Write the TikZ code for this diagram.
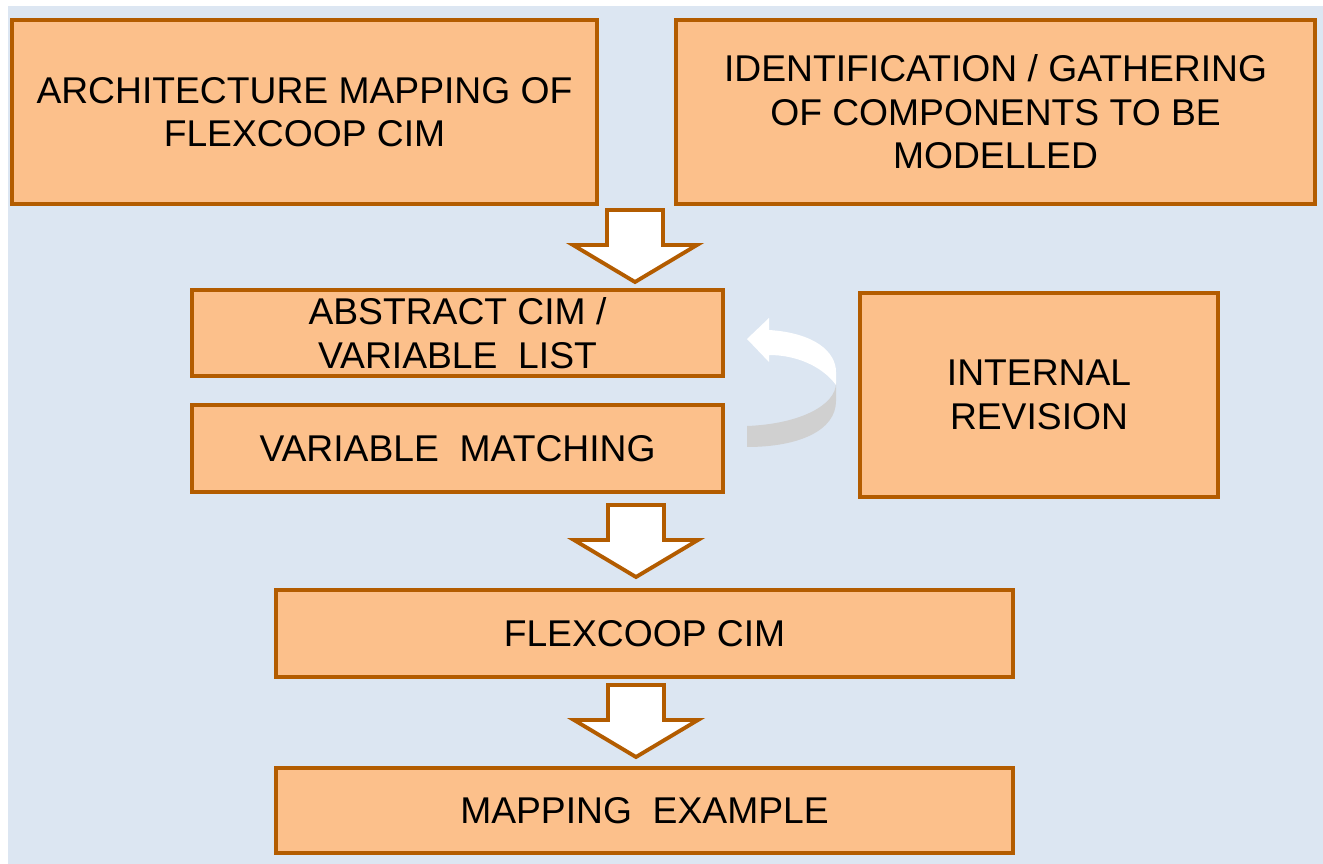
\documentclass[tikz,border=0pt]{standalone}
\usepackage{fontspec}
\setmainfont{Liberation Sans}
\usetikzlibrary{positioning}
\definecolor{pagebg}{HTML}{DCE6F2}
\definecolor{boxfill}{HTML}{FCC08B}
\definecolor{boxline}{HTML}{B35C00}
\definecolor{ribbon}{HTML}{D0D0D0}
\tikzset{
  stage/.style={rectangle, draw=boxline, line width=2.2pt, fill=boxfill,
                align=center, font=\fontsize{21.2}{24.8}\selectfont},
  blockarr/.style={draw=boxline, line width=2.2pt, fill=white, line join=miter},
  pics/downarrow/.style={code={
    \draw[blockarr] (-28,0) -- (28,0) -- (28,35) -- (62,35) -- (0,72)
                    -- (-62,35) -- (-28,35) -- cycle;
  }}
}

\begin{document}
\begin{tikzpicture}[x=0.02cm, y=-0.02cm]
  \useasboundingbox (0,0) rectangle (1323,864);
  \fill[pagebg] (8,6) rectangle (1323,864);

  % top row
  \node[stage, minimum width=11.7cm, minimum height=3.68cm] (arch) at (304.5,112)
       {ARCHITECTURE MAPPING OF\\FLEXCOOP CIM};
  \node[stage, minimum width=12.78cm, minimum height=3.68cm] (ident) at (995.5,112)
       {IDENTIFICATION / GATHERING\\OF COMPONENTS TO BE\\MODELLED};

  % middle
  \node[stage, minimum width=10.62cm, minimum height=1.72cm] (abs) at (457.5,333)
       {ABSTRACT CIM /\\VARIABLE \ LIST};
  \node[stage, minimum width=10.62cm, minimum height=1.74cm] (match) at (457.5,448.5)
       {VARIABLE \ MATCHING};
  \node[stage, minimum width=7.16cm, minimum height=4.08cm] (rev) at (1039,395)
       {INTERNAL\\REVISION};

  % bottom
  \node[stage, minimum width=14.74cm, minimum height=1.74cm] (flex) at (644.5,633.5)
       {FLEXCOOP CIM};
  \node[stage, minimum width=14.74cm, minimum height=1.7cm] (example) at (644.5,810.5)
       {MAPPING \ EXAMPLE};

  % block arrows
  \pic (a1) at (635,210) {downarrow};
  \pic (a2) at (636,505) {downarrow};
  \pic (a3) at (636,685) {downarrow};

  % revision loop
  \fill[ribbon] (747,426) .. controls (800,424) and (836,405) .. (836,383)
       -- (836,401) .. controls (836,430) and (800,447) .. (747,447) -- cycle;
  \fill[white] (747,339) -- (769,318) -- (769,330)
       .. controls (815,333) and (836,352) .. (836,372) -- (836,385)
       .. controls (822,366) and (796,355) .. (769,355) -- (769,362) -- cycle;
\end{tikzpicture}
\end{document}
